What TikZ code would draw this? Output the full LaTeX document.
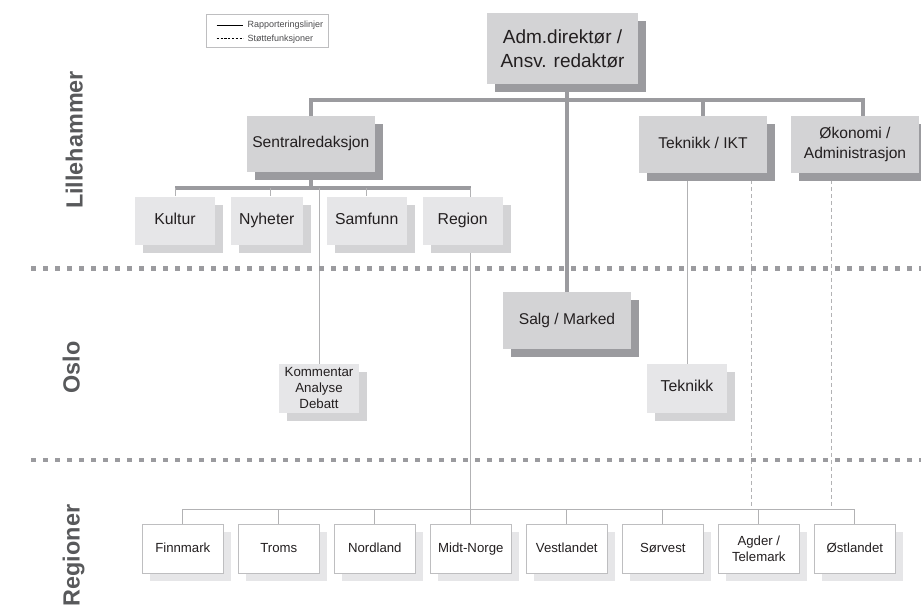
\documentclass[tikz,border=0pt]{standalone}
\usepackage{fontspec}
\setmainfont{Liberation Sans}
\usetikzlibrary{shadows,backgrounds}
\definecolor{boxA}{HTML}{D3D3D5}
\definecolor{shA}{HTML}{9B9B9F}
\definecolor{boxB}{HTML}{E6E6E8}
\definecolor{shB}{HTML}{D3D3D5}
\definecolor{txt}{HTML}{231F20}
\definecolor{conn}{HTML}{9B9B9F}
\definecolor{thinc}{HTML}{B2B2B4}
\definecolor{regline}{HTML}{BEBEC0}
\definecolor{lbl}{HTML}{58595B}
\definecolor{legtxt}{HTML}{4A4A4C}
\tikzset{
  basebox/.style={inner sep=0pt, align=center, text=txt},
  oneline/.style={text height=0.72em, text depth=0em},
  topbox/.style={basebox, fill=boxA, general shadow={fill=shA, draw=none, shadow xshift=8pt, shadow yshift=-8pt}, font=\fontsize{15.6}{20}\selectfont},
  subbox/.style={basebox, fill=boxB, general shadow={fill=shB, draw=none, shadow xshift=8pt, shadow yshift=-8pt}, minimum width=80pt, minimum height=48pt, font=\fontsize{15.8}{19}\selectfont},
  regbox/.style={basebox, fill=white, draw=regline, line width=0.8pt, general shadow={fill=boxB, draw=none, shadow xshift=8pt, shadow yshift=-8pt}, minimum width=81pt, minimum height=49.3pt, font=\fontsize{13.2}{16}\selectfont},
  thickline/.style={draw=conn, line width=4pt},
  medline/.style={draw=conn, line width=3.5pt},
  thinline/.style={draw=thinc, line width=1pt},
  regconn/.style={draw=thinc, line width=1pt},
  dashline/.style={draw=thinc, line width=1pt, dash pattern=on 4pt off 3pt},
  sepline/.style={draw=conn, line width=4.5pt, dash pattern=on 5pt off 7pt},
  sidelabel/.style={rotate=90, anchor=base, inner sep=0pt, text=lbl, font=\fontsize{23.4}{28}\selectfont\bfseries},
  legtext/.style={anchor=base west, inner sep=0pt, text=legtxt, font=\fontsize{9}{10}\selectfont}
}
\begin{document}
\begin{tikzpicture}[x=1pt,y=-1pt]
\useasboundingbox (0,0) rectangle (921,608);

% legend
\node[draw=regline, line width=0.6pt, minimum width=122pt, minimum height=32.3pt, inner sep=0pt] (legend) at (267,30.9) {};
\node[legtext] (leg1) at (247.3,27.8) {Rapporteringslinjer};
\node[legtext] (leg2) at (247.3,41.3) {Støttefunksjoner};
\draw[black, line width=0.7pt] ([xshift=-30.6pt,yshift=2.8pt]leg1.base west) -- ([xshift=-4pt,yshift=2.8pt]leg1.base west);
\draw[black, line width=0.7pt, dash pattern=on 2.2pt off 1.6pt] ([xshift=-30.6pt,yshift=2.8pt]leg2.base west) -- ([xshift=-4pt,yshift=2.8pt]leg2.base west);

% side labels
\node[sidelabel] (lil) at (82.5,140) {Lillehammer};
\node[sidelabel] (oslo) at (79.5,367.5) {Oslo};
\node[sidelabel] (regl) at (79.5,555.5) {Regioner};

% separators
\coordinate (s1a) at (31,268.3);
\coordinate (s1b) at (921,268.3);
\coordinate (s2a) at (31,460);
\coordinate (s2b) at (921,460);
\draw[sepline] (s1a) -- (s1b);
\draw[sepline] (s2a) -- (s2b);

% top level
\node[topbox, minimum width=151pt, minimum height=71.3pt, font=\fontsize{19}{24}\selectfont] (adm) at (562.5,48.4) {Adm.direktør /\\Ansv. redaktør};
\node[topbox, oneline, minimum width=128.3pt, minimum height=56pt] (sentral) at (310.8,144) {Sentralredaksjon};
\node[topbox, oneline, minimum width=128pt, minimum height=56.7pt] (tekikt) at (703,144.4) {Teknikk / IKT};
\node[topbox, minimum width=128pt, minimum height=56.7pt, font=\fontsize{15.6}{20.5}\selectfont] (okon) at (855,144.4) {Økonomi /\\Administrasjon};
\node[topbox, oneline, minimum width=128pt, minimum height=56.4pt] (salg) at (567,320.5) {Salg / Marked};

% second level
\node[subbox, oneline] (kultur) at (175,220.5) {Kultur};
\node[subbox, oneline, minimum width=71.7pt] (nyheter) at (266.8,220.5) {Nyheter};
\node[subbox, oneline] (samfunn) at (366.7,220.5) {Samfunn};
\node[subbox, oneline] (region) at (462.7,220.5) {Region};
\node[subbox, minimum height=48.7pt, font=\fontsize{13.3}{16}\selectfont] (komm) at (319,388.3) {Kommentar\\Analyse\\Debatt};
\node[subbox, oneline, minimum height=48.7pt] (teknikk) at (687,388.3) {Teknikk};

% regions
\node[regbox, oneline] (finn) at (182.8,548.7) {Finnmark};
\node[regbox, oneline] (troms) at (278.8,548.7) {Troms};
\node[regbox, oneline] (nord) at (374.8,548.7) {Nordland};
\node[regbox, oneline] (midt) at (470.8,548.7) {Midt-Norge};
\node[regbox, oneline] (vest) at (566.8,548.7) {Vestlandet};
\node[regbox, oneline] (sorv) at (662.8,548.7) {Sørvest};
\node[regbox] (agder) at (758.8,548.7) {Agder /\\Telemark};
\node[regbox, oneline] (ost) at (854.8,548.7) {Østlandet};

\coordinate (bar) at (567,100);
\coordinate (sbar) at (0,188);
\coordinate (rbar) at (0,509);

\begin{scope}[on background layer]
\draw[thickline] (adm.south -| salg.north) -- (salg.north);
\draw[thickline] (sentral.north) |- ([xshift=7.5pt]okon.north |- bar) -- ([xshift=7.5pt]okon.north);
\draw[thickline] (tekikt.north |- bar) -- (tekikt.north);

\draw[medline] (sentral.south) -- (sentral.south |- sbar);
\draw[medline] (kultur.north |- sbar) -- (midt.north |- sbar);
\draw[thinline] (kultur.north |- sbar) -- (kultur.north);
\draw[thinline] ([xshift=4pt]nyheter.north |- sbar) -- ([xshift=4pt]nyheter.north);
\draw[thinline] (samfunn.north |- sbar) -- (samfunn.north);
\draw[thinline] (midt.north |- sbar) -- (midt.north);
\draw[thinline] (komm.north |- sbar) -- (komm.north);
\draw[thinline] (teknikk.north |- tekikt.south) -- (teknikk.north);

\draw[dashline] ([xshift=48pt]tekikt.south) -- ([xshift=48pt]tekikt.south |- rbar);
\draw[dashline] ([xshift=-24pt]okon.south) -- ([xshift=-24pt]okon.south |- rbar);

\draw[regconn] (finn.north |- rbar) -- (ost.north |- rbar);
\foreach \r in {finn,troms,nord,midt,vest,sorv,agder,ost}
  \draw[regconn] (\r.north |- rbar) -- (\r.north);
\end{scope}
\end{tikzpicture}
\end{document}
